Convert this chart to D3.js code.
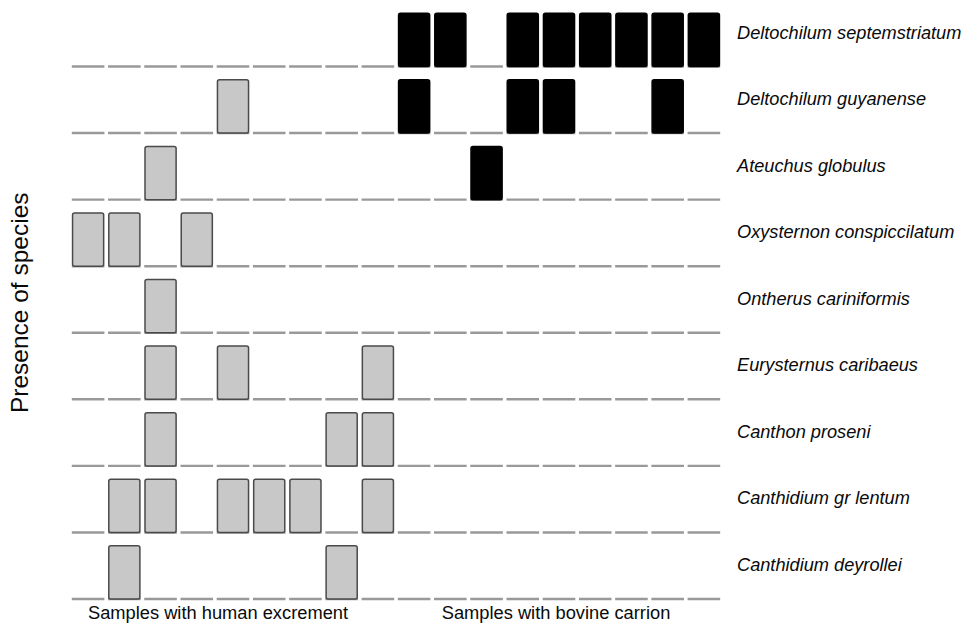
<!DOCTYPE html>
<html>
<head>
<meta charset="utf-8">
<script src="https://cdn.jsdelivr.net/npm/d3@7"></script>
<style>
  html, body { margin: 0; padding: 0; background: #fff; }
  svg { display: block; }
</style>
</head>
<body>
<svg id="chart" width="967" height="627"></svg>
<script>
// ---- data ----
const species = [
  "Deltochilum septemstriatum",
  "Deltochilum guyanense",
  "Ateuchus globulus",
  "Oxysternon conspiccilatum",
  "Ontherus cariniformis",
  "Eurysternus caribaeus",
  "Canthon proseni",
  "Canthidium gr lentum",
  "Canthidium deyrollei"
];
const groups = ["Samples with human excrement", "Samples with bovine carrion"];
const samplesPerGroup = 9;
// indices of samples (0-8) within each group where species is present
const humanPresence = [[], [4], [2], [0, 1, 3], [2], [2, 4, 8], [2, 7, 8], [1, 2, 4, 5, 6, 8], [1, 7]];
const bovinePresence = [[0, 1, 3, 4, 5, 6, 7, 8], [0, 3, 4, 7], [2], [], [], [], [], [], []];
const yTitle = "Presence of species";

// ---- build ----
const svg = d3.select("#chart");
const columns = d3.range(groups.length * samplesPerGroup);

const x = d3.scaleBand().domain(columns).range([70, 722]).paddingInner(0.1).paddingOuter(0.05);
const y = d3.scalePoint().domain(species).range([66.5, 599]);
const rowStep = y.step();
const barH = rowStep * 0.8;

const cells = [];
species.forEach((s, i) => {
  humanPresence[i].forEach(c => cells.push({ species: s, col: c, group: 0 }));
  bovinePresence[i].forEach(c => cells.push({ species: s, col: c + samplesPerGroup, group: 1 }));
});

// baseline dashes
const dashes = [];
species.forEach(s => columns.forEach(c => dashes.push({ species: s, col: c })));
svg.append("g").selectAll("line").data(dashes).join("line")
  .attr("x1", d => x(d.col))
  .attr("x2", d => x(d.col) + x.bandwidth())
  .attr("y1", d => y(d.species))
  .attr("y2", d => y(d.species))
  .attr("stroke", "#999")
  .attr("stroke-width", 2.4);

// bars
svg.append("g").selectAll("rect").data(cells).join("rect")
  .attr("x", d => x(d.col) + 0.75)
  .attr("width", x.bandwidth() - 1.5)
  .attr("y", d => y(d.species) - barH)
  .attr("height", barH)
  .attr("rx", 2)
  .attr("fill", d => d.group === 0 ? "#c8c8c8" : "#000")
  .attr("stroke", d => d.group === 0 ? "#4a4a4a" : "#000")
  .attr("stroke-width", 1.5);

// species labels
svg.append("g").selectAll("text").data(species).join("text")
  .attr("x", 737)
  .attr("y", d => y(d) - 34)
  .attr("dominant-baseline", "central")
  .attr("font-family", "Liberation Sans, Arial, sans-serif")
  .attr("font-style", "italic")
  .attr("font-size", 18.2)
  .attr("fill", "#0a0a0a")
  .text(d => d);

// group labels
const groupCenter = g => {
  const a = x(g * samplesPerGroup), b = x(g * samplesPerGroup + samplesPerGroup - 1) + x.bandwidth();
  return (a + b) / 2;
};
svg.append("g").selectAll("text").data(groups).join("text")
  .attr("x", (d, i) => groupCenter(i) + (i === 0 ? -15 : -3))
  .attr("y", 612)
  .attr("text-anchor", "middle")
  .attr("dominant-baseline", "central")
  .attr("font-family", "Liberation Sans, Arial, sans-serif")
  .attr("font-size", 18.3)
  .attr("fill", "#0a0a0a")
  .text(d => d);

// y title
svg.append("text")
  .attr("transform", `translate(19, ${(y.range()[0] + y.range()[1]) / 2 - 30}) rotate(-90)`)
  .attr("text-anchor", "middle")
  .attr("dominant-baseline", "central")
  .attr("font-family", "Liberation Sans, Arial, sans-serif")
  .attr("font-size", 24.5)
  .attr("fill", "#0a0a0a")
  .text(yTitle);
</script>
</body>
</html>
